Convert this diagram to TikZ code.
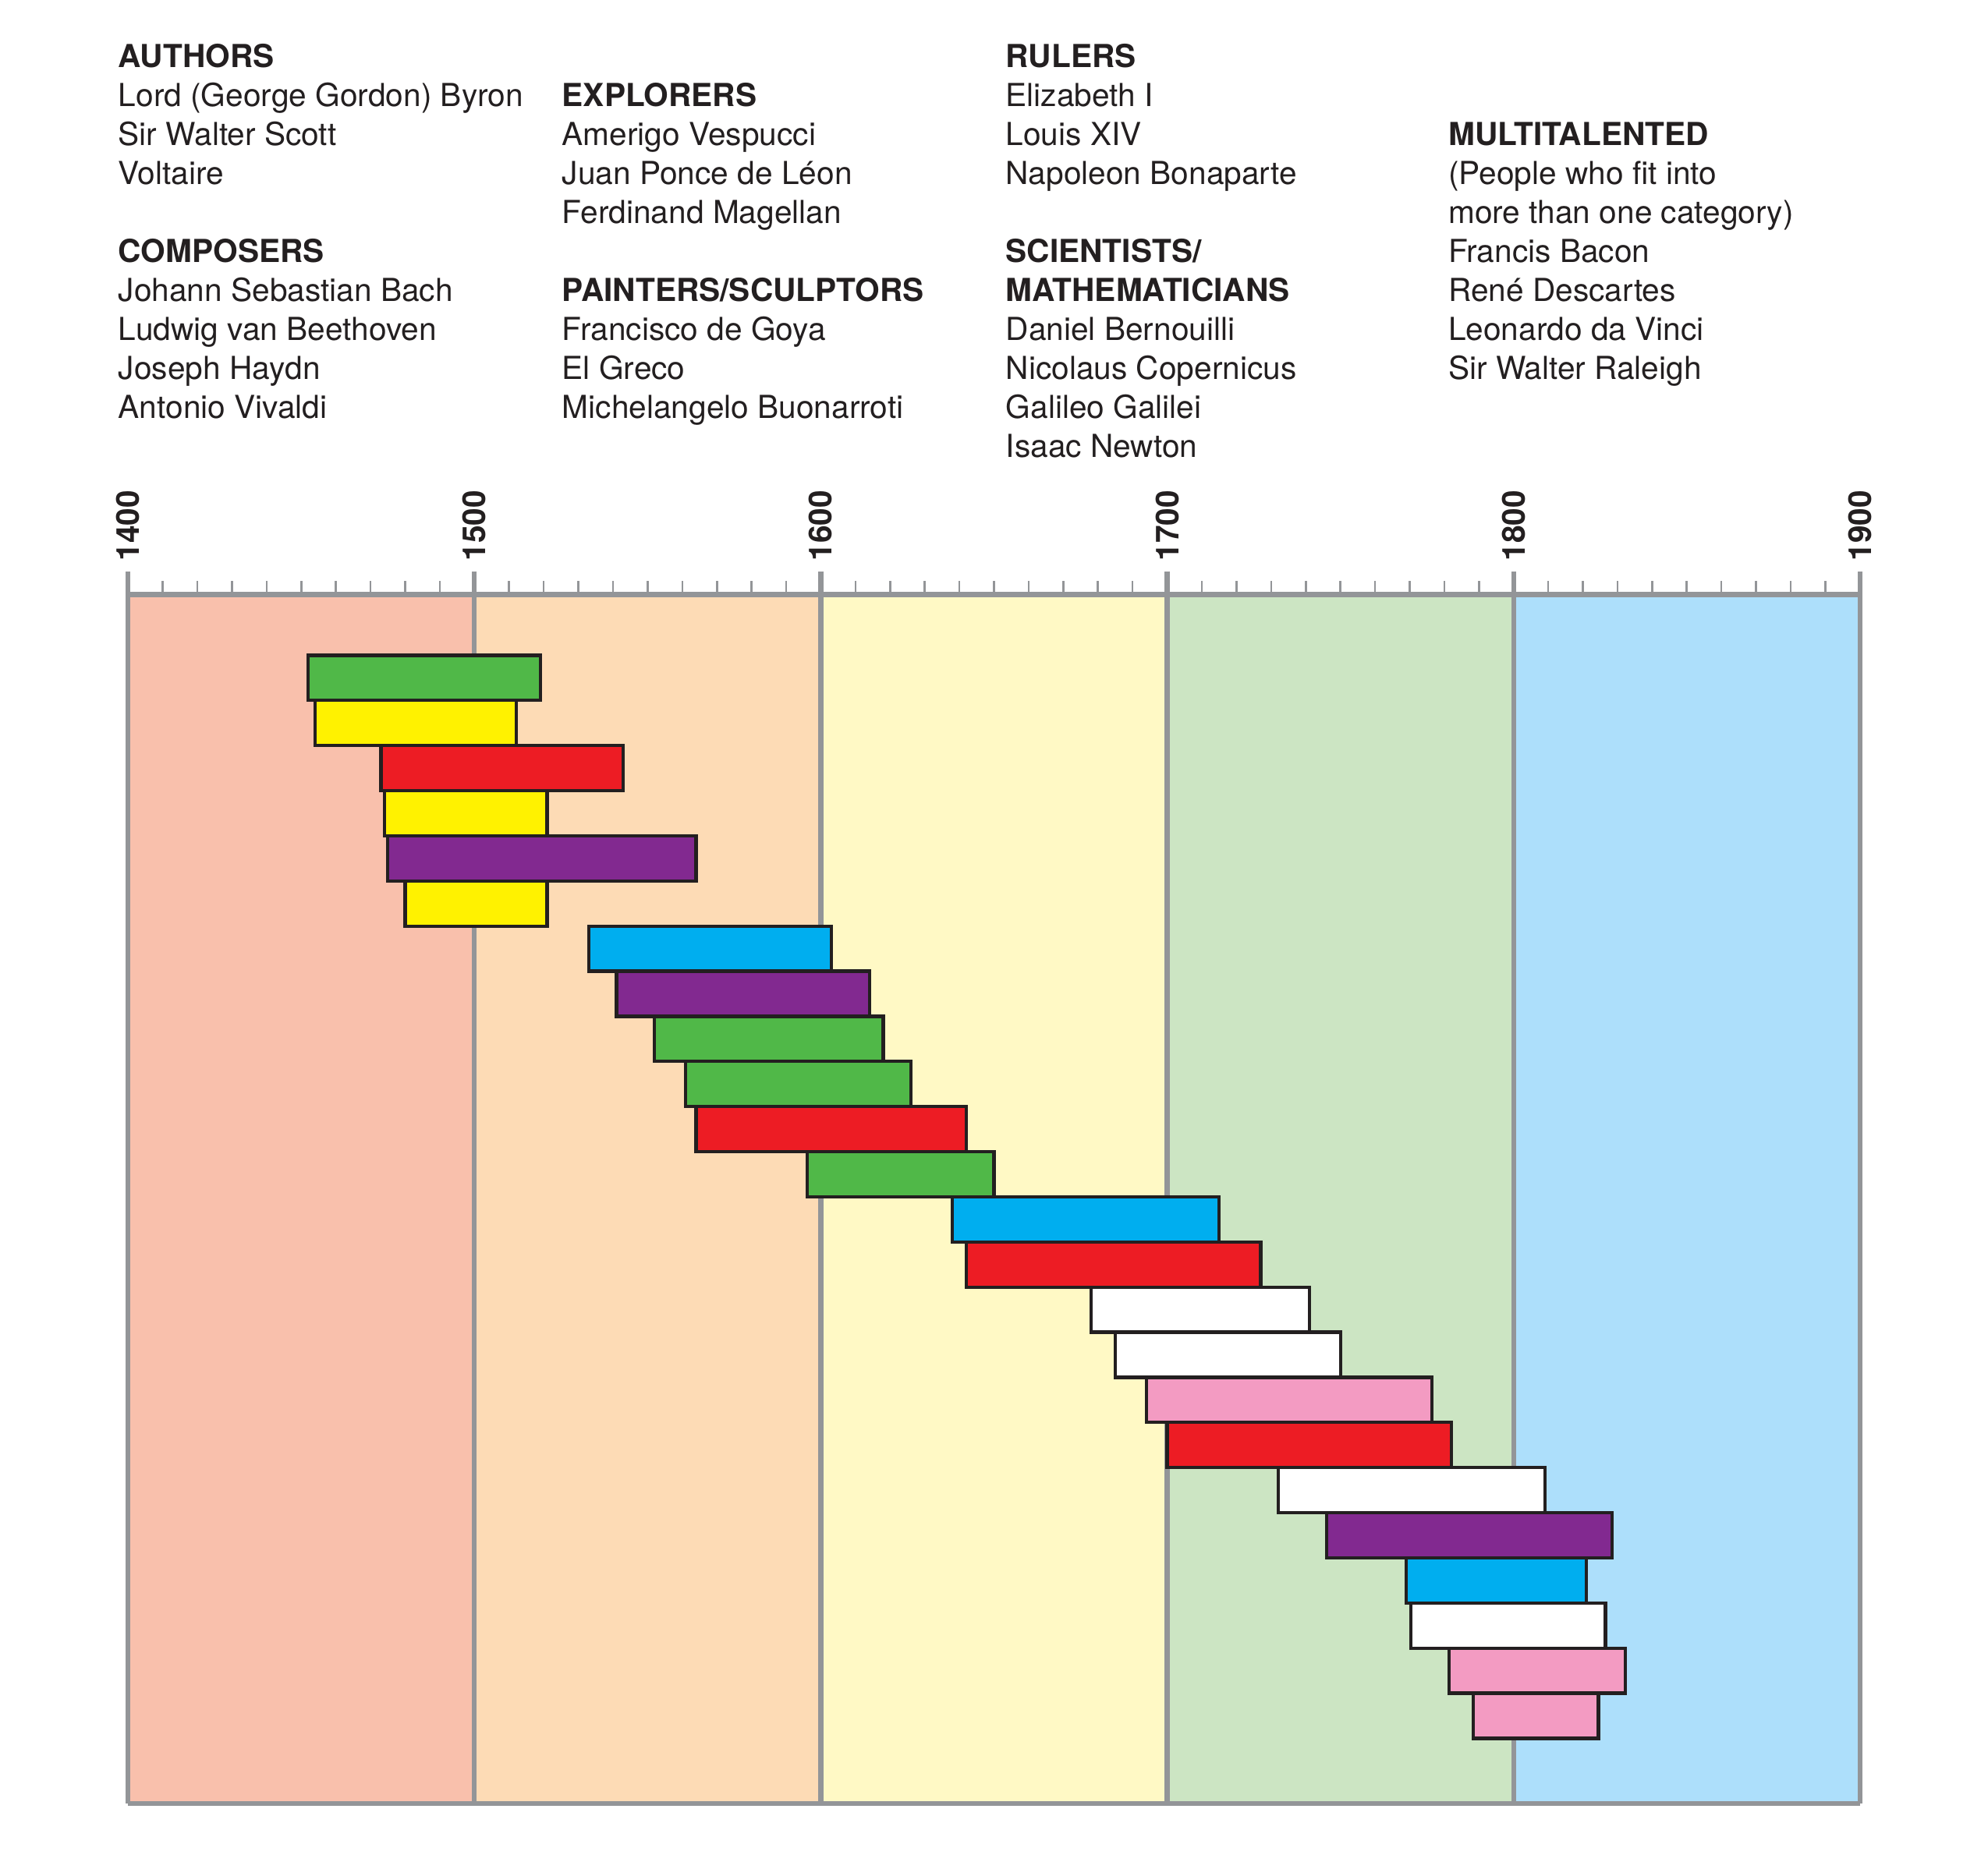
\documentclass[tikz,border=0pt]{standalone}
\usepackage{fontspec}
\setmainfont{TeX Gyre Heros}
\definecolor{ink}{HTML}{231F20}
\definecolor{axisgray}{HTML}{939598}
\definecolor{bandA}{HTML}{F9C0AC}
\definecolor{bandB}{HTML}{FDDBB5}
\definecolor{bandC}{HTML}{FFF9C5}
\definecolor{bandD}{HTML}{CCE5C3}
\definecolor{bandE}{HTML}{ADDFFB}
\definecolor{cgreen}{HTML}{50B848}
\definecolor{cyellow}{HTML}{FFF200}
\definecolor{cred}{HTML}{ED1C24}
\definecolor{cpurple}{HTML}{822990}
\definecolor{cblue}{HTML}{00AEEF}
\definecolor{cpink}{HTML}{F39BC2}
\definecolor{cwhite}{HTML}{FFFFFF}
\tikzset{
  txt/.style={anchor=base west, inner sep=0pt, text=ink, font=\fontsize{12.5}{15}\selectfont},
  hd/.style={txt, font=\fontsize{12.5}{15}\selectfont\bfseries},
  yearlbl/.style={anchor=west, rotate=90, inner sep=0pt, text=ink, font=\fontsize{12.5}{15}\selectfont\bfseries},
  majorline/.style={draw=axisgray, line width=1.9pt},
  minortick/.style={draw=axisgray, line width=0.8pt},
  barbox/.style={draw=ink, line width=1.3pt}
}
\begin{document}
\begin{tikzpicture}[x=0.5pt,y=-0.5pt]
\useasboundingbox (0,0) rectangle (1568,1474);
% text columns
\node[hd]  (a0) at (93,{53+30.75*0}) {AUTHORS};
\node[txt] (a1) at (93,{53+30.75*1}) {Lord (George Gordon) Byron};
\node[txt] (a2) at (93,{53+30.75*2}) {Sir Walter Scott};
\node[txt] (a3) at (93,{53+30.75*3}) {Voltaire};
\node[hd]  (a5) at (93,{53+30.75*5}) {COMPOSERS};
\node[txt] (a6) at (93,{53+30.75*6}) {Johann Sebastian Bach};
\node[txt] (a7) at (93,{53+30.75*7}) {Ludwig van Beethoven};
\node[txt] (a8) at (93,{53+30.75*8}) {Joseph Haydn};
\node[txt] (a9) at (93,{53+30.75*9}) {Antonio Vivaldi};
\node[hd]  (b1) at (443,{53+30.75*1}) {EXPLORERS};
\node[txt] (b2) at (443,{53+30.75*2}) {Amerigo Vespucci};
\node[txt] (b3) at (443,{53+30.75*3}) {Juan Ponce de Léon};
\node[txt] (b4) at (443,{53+30.75*4}) {Ferdinand Magellan};
\node[hd]  (b6) at (443,{53+30.75*6}) {PAINTERS/SCULPTORS};
\node[txt] (b7) at (443,{53+30.75*7}) {Francisco de Goya};
\node[txt] (b8) at (443,{53+30.75*8}) {El Greco};
\node[txt] (b9) at (443,{53+30.75*9}) {Michelangelo Buonarroti};
\node[hd]  (c0) at (793,{53+30.75*0}) {RULERS};
\node[txt] (c1) at (793,{53+30.75*1}) {Elizabeth I};
\node[txt] (c2) at (793,{53+30.75*2}) {Louis XIV};
\node[txt] (c3) at (793,{53+30.75*3}) {Napoleon Bonaparte};
\node[hd]  (c5) at (793,{53+30.75*5}) {SCIENTISTS/};
\node[hd]  (c6) at (793,{53+30.75*6}) {MATHEMATICIANS};
\node[txt] (c7) at (793,{53+30.75*7}) {Daniel Bernouilli};
\node[txt] (c8) at (793,{53+30.75*8}) {Nicolaus Copernicus};
\node[txt] (c9) at (793,{53+30.75*9}) {Galileo Galilei};
\node[txt] (c10) at (793,{53+30.75*10}) {Isaac Newton};
\node[hd]  (d2) at (1142,{53+30.75*2}) {MULTITALENTED};
\node[txt] (d3) at (1142,{53+30.75*3}) {(People who fit into};
\node[txt] (d4) at (1142,{53+30.75*4}) {more than one category)};
\node[txt] (d5) at (1142,{53+30.75*5}) {Francis Bacon};
\node[txt] (d6) at (1142,{53+30.75*6}) {René Descartes};
\node[txt] (d7) at (1142,{53+30.75*7}) {Leonardo da Vinci};
\node[txt] (d8) at (1142,{53+30.75*8}) {Sir Walter Raleigh};
% century bands
\fill[bandA] (101,469) rectangle (374.2,1423);
\fill[bandB] (374.2,469) rectangle (647.4,1423);
\fill[bandC] (647.4,469) rectangle (920.6,1423);
\fill[bandD] (920.6,469) rectangle (1193.8,1423);
\fill[bandE] (1193.8,469) rectangle (1467,1423);
% minor ticks
\foreach \k in {1,...,49}{
  \pgfmathtruncatemacro\m{mod(\k,10)}
  \ifnum\m=0\else
    \draw[minortick] ({101+\k*27.32},458.3) -- ({101+\k*27.32},469);
  \fi
}
% frame
\draw[majorline] (101,469) -- (1467,469);
\draw[majorline] (101,1423) -- (1467,1423);
\foreach \c/\yr in {0/1400,1/1500,2/1600,3/1700,4/1800,5/1900}{
  \draw[majorline] ({101+\c*273.2},450.7) -- ({101+\c*273.2},1423);
  \node[yearlbl] (y\yr) at ({101+\c*273.2},443) {\yr};
}
% bars
\foreach \s/\e/\col [count=\i] in {
  1452/1519/cgreen, 1454/1512/cyellow, 1473/1543/cred, 1474/1521/cyellow,
  1475/1564/cpurple, 1480/1521/cyellow, 1533/1603/cblue, 1541/1614/cpurple,
  1552/1618/cgreen, 1561/1626/cgreen, 1564/1642/cred, 1596/1650/cgreen,
  1638/1715/cblue, 1642/1727/cred, 1678/1741/cwhite, 1685/1750/cwhite,
  1694/1776.5/cpink, 1700/1782/cred, 1732/1809/cwhite, 1746/1828.5/cpurple,
  1769/1821/cblue, 1770.4/1826.5/cwhite, 1781.4/1832.3/cpink, 1788.4/1824.5/cpink}{
  \path[barbox, fill=\col] ({101+(\s-1400)*2.732},{517+(\i-1)*35.6}) rectangle ({101+(\e-1400)*2.732},{517+\i*35.6});
}
\end{tikzpicture}
\end{document}
